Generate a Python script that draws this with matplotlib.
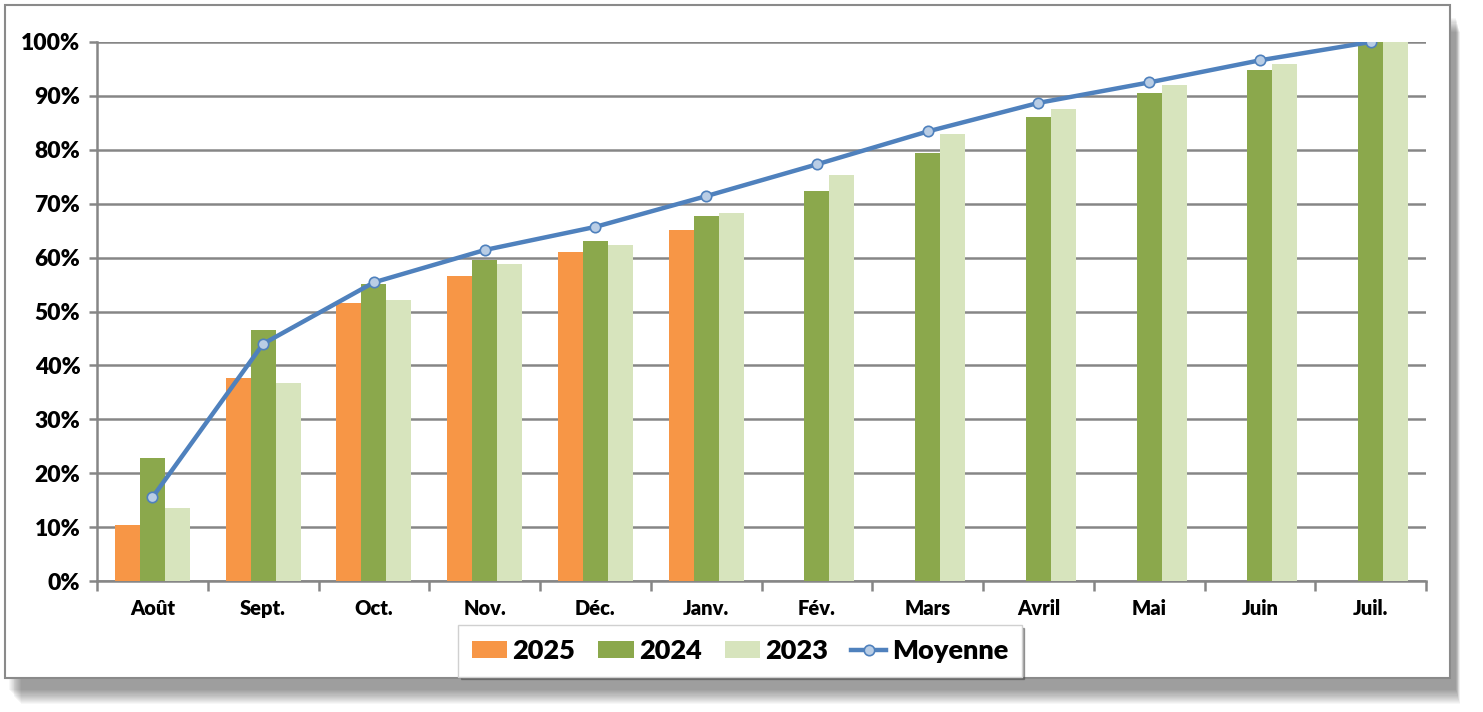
import matplotlib.pyplot as plt
from matplotlib.patches import Rectangle
from matplotlib.ticker import FuncFormatter, FixedLocator
import numpy as np

mois = ['Août', 'Sept.', 'Oct.', 'Nov.', 'Déc.', 'Janv.', 'Fév.', 'Mars', 'Avril', 'Mai', 'Juin', 'Juil.']
v2025 = [10.4, 37.7, 51.5, 56.6, 61.0, 65.2, np.nan, np.nan, np.nan, np.nan, np.nan, np.nan]
v2024 = [22.8, 46.5, 55.1, 59.6, 63.0, 67.7, 72.4, 79.4, 86.0, 90.5, 94.8, 100.0]
v2023 = [13.6, 36.8, 52.2, 58.8, 62.4, 68.2, 75.4, 82.9, 87.5, 92.0, 96.0, 100.0]
moyenne = [15.5, 44.0, 55.4, 61.4, 65.7, 71.4, 77.3, 83.4, 88.7, 92.5, 96.6, 100.0]

plt.rcParams['font.family'] = ['Lato', 'DejaVu Sans']
plt.rcParams['font.weight'] = 'heavy'

W, H = 1483, 712
fig = plt.figure(figsize=(W / 100, H / 100), dpi=100)

# ombre du cadre
for i in range(14):
    fig.patches.append(Rectangle(((9 + i * 0.9) / W, (H - 690 - i * 1.1) / H), (1447 - i * 0.6) / W, 672 / H,
                                 transform=fig.transFigure, facecolor='black', alpha=0.03,
                                 edgecolor='none', zorder=0))
fig.patches.append(Rectangle((5 / W, (H - 678) / H), 1445 / W, 673 / H, transform=fig.transFigure,
                             facecolor='white', edgecolor='#8a8a8a', linewidth=1.5, zorder=1))

ax = fig.add_axes([97 / W, 1 - 581 / H, (1426 - 97) / W, (581 - 42) / H])
ax.set_facecolor('none')
ax.set_zorder(2)

x = np.arange(len(mois))
bw = 0.225
b1 = ax.bar(x - bw, v2025, bw, color='#F79646', label='2025', zorder=3)
b2 = ax.bar(x, v2024, bw, color='#8BA84C', label='2024', zorder=3)
b3 = ax.bar(x + bw, v2023, bw, color='#D7E4BD', label='2023', zorder=3)
ln, = ax.plot(x, moyenne, color='#4F81BD', linewidth=3.2, marker='o', markersize=7.5,
              markerfacecolor='#B9CDE5', markeredgecolor='#4F81BD', markeredgewidth=1.2,
              label='Moyenne', zorder=4)

ax.set_xlim(-0.5, len(mois) - 0.5)
ax.set_ylim(0, 100)
ax.set_yticks(np.arange(0, 101, 10))
ax.yaxis.set_major_formatter(FuncFormatter(lambda v, p: '{:.0f}%'.format(v)))
ax.yaxis.grid(True, color='#868686', linewidth=1.8, zorder=1)
ax.set_axisbelow(True)

ax.set_xticks(x)
ax.set_xticklabels(mois, fontsize=14.5, fontweight='heavy')
ax.xaxis.set_minor_locator(FixedLocator(np.arange(-0.5, len(mois), 1)))
ax.tick_params(axis='x', which='major', length=0, pad=13)
ax.tick_params(axis='x', which='minor', length=7, width=1.8, color='#868686')
ax.tick_params(axis='y', length=6, width=1.8, color='#868686', labelsize=16.5, pad=6)
for lab in ax.get_yticklabels():
    lab.set_fontweight('heavy')

for s in ['top', 'right']:
    ax.spines[s].set_visible(False)
for s in ['left', 'bottom']:
    ax.spines[s].set_color('#868686')
    ax.spines[s].set_linewidth(1.8)

leg = fig.legend([b1, b2, b3, ln], ['2025', '2024', '2023', 'Moyenne'],
                 loc='center', bbox_to_anchor=(740 / W, 1 - 651 / H), ncol=4, fontsize=19.5,
                 frameon=True, fancybox=False, shadow=True, edgecolor='#d0d0d0',
                 handlelength=1.3, handleheight=0.6, columnspacing=0.85, handletextpad=0.2,
                 borderpad=0.5, borderaxespad=0)
for t in leg.get_texts():
    t.set_fontweight('heavy')

fig.savefig('out.png', dpi=100)
